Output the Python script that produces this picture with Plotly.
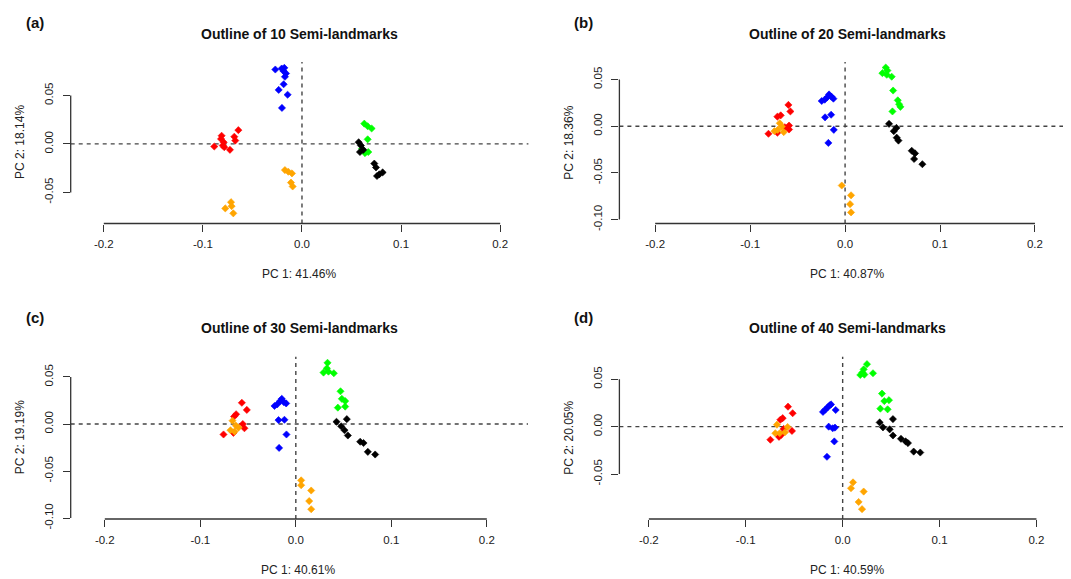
import plotly.graph_objects as go

W, H = 1071, 579

# ---------------- data (PC1, PC2) ----------------
# Panel (a): 10 semi-landmarks
pc1_a_red = [-0.0885, -0.0811, -0.0817, -0.0790, -0.0784, -0.0727, -0.0683, -0.0673, -0.0642, -0.0800]
pc2_a_red = [-0.0027, 0.0084, 0.0051, 0.0017, -0.0034, -0.0061, 0.0074, 0.0034, 0.0142, -0.0017]
pc1_a_orange = [-0.0172, -0.0138, -0.0101, -0.0111, -0.0094, -0.0774, -0.0716, -0.0710, -0.0693]
pc2_a_orange = [-0.0270, -0.0287, -0.0304, -0.0399, -0.0439, -0.0665, -0.0601, -0.0642, -0.0716]
pc1_a_blue = [-0.0269, -0.0205, -0.0178, -0.0185, -0.0161, -0.0172, -0.0185, -0.0235, -0.0145, -0.0202]
pc2_a_blue = [0.0767, 0.0777, 0.0784, 0.0750, 0.0726, 0.0692, 0.0615, 0.0557, 0.0507, 0.0371]
pc1_a_green = [0.0629, 0.0663, 0.0703, 0.0663, 0.0605, 0.0636, 0.0669, 0.0612]
pc2_a_green = [0.0209, 0.0182, 0.0159, 0.0047, -0.0051, -0.0095, -0.0084, -0.0068]
pc1_a_black = [0.0572, 0.0595, 0.0585, 0.0619, 0.0730, 0.0747, 0.0757, 0.0814, 0.0780]
pc2_a_black = [0.0017, -0.0017, -0.0084, -0.0061, -0.0203, -0.0243, -0.0331, -0.0294, -0.0314]

# Panel (b): 20 semi-landmarks
pc1_b_red = [-0.0597, -0.0576, -0.0713, -0.0678, -0.0590, -0.0590, -0.0807, -0.0713, -0.0635]
pc2_b_red = [0.0228, 0.0158, 0.0102, 0.0116, 0.0007, -0.0035, -0.0081, -0.0070, -0.0011]
pc1_b_orange = [-0.0688, -0.0667, -0.0744, -0.0709, -0.0646, -0.0035, 0.0063, 0.0053, 0.0063]
pc2_b_orange = [0.0032, -0.0004, -0.0053, -0.0039, -0.0063, -0.0635, -0.0740, -0.0835, -0.0923]
pc1_b_blue = [-0.0246, -0.0214, -0.0186, -0.0169, -0.0144, -0.0123, -0.0211, -0.0147, -0.0119, -0.0176]
pc2_b_blue = [0.0270, 0.0284, 0.0312, 0.0340, 0.0316, 0.0295, 0.0095, 0.0123, -0.0039, -0.0179]
pc1_b_green = [0.0428, 0.0446, 0.0393, 0.0439, 0.0491, 0.0506, 0.0555, 0.0583, 0.0569, 0.0499]
pc2_b_green = [0.0628, 0.0596, 0.0568, 0.0551, 0.0530, 0.0382, 0.0277, 0.0207, 0.0235, 0.0158]
pc1_b_black = [0.0463, 0.0541, 0.0513, 0.0544, 0.0562, 0.0702, 0.0737, 0.0727, 0.0814]
pc2_b_black = [0.0025, -0.0018, -0.0053, -0.0123, -0.0154, -0.0263, -0.0291, -0.0351, -0.0407]

# Panel (c): 30 semi-landmarks
pc1_c_red = [-0.0565, -0.0513, -0.0625, -0.0646, -0.0555, -0.0538, -0.0757, -0.0653]
pc2_c_red = [0.0226, 0.0150, 0.0104, 0.0080, 0.0000, -0.0045, -0.0111, -0.0094]
pc1_c_orange = [-0.0663, -0.0628, -0.0684, -0.0600, -0.0642, 0.0056, 0.0056, 0.0161, 0.0140, 0.0161]
pc2_c_orange = [0.0035, -0.0017, -0.0066, -0.0038, -0.0080, -0.0599, -0.0651, -0.0707, -0.0819, -0.0906]
pc1_c_blue = [-0.0223, -0.0195, -0.0164, -0.0147, -0.0126, -0.0101, -0.0181, -0.0119, -0.0098, -0.0175]
pc2_c_blue = [0.0192, 0.0209, 0.0244, 0.0268, 0.0233, 0.0219, 0.0042, 0.0045, -0.0111, -0.0254]
pc1_c_green = [0.0332, 0.0325, 0.0290, 0.0342, 0.0398, 0.0468, 0.0482, 0.0517, 0.0517, 0.0440]
pc2_c_green = [0.0651, 0.0592, 0.0547, 0.0557, 0.0540, 0.0348, 0.0268, 0.0244, 0.0185, 0.0174]
pc1_c_black = [0.0426, 0.0534, 0.0475, 0.0510, 0.0545, 0.0674, 0.0709, 0.0754, 0.0831]
pc2_c_black = [0.0024, 0.0052, -0.0024, -0.0066, -0.0122, -0.0188, -0.0202, -0.0296, -0.0324]

# Panel (d): 40 semi-landmarks
pc1_d_red = [-0.0564, -0.0516, -0.0643, -0.0619, -0.0609, -0.0523, -0.0746, -0.0657, -0.0633]
pc2_d_red = [0.0211, 0.0142, 0.0073, 0.0090, -0.0024, -0.0045, -0.0138, -0.0107, -0.0086]
pc1_d_orange = [-0.0678, -0.0568, -0.0695, -0.0650, -0.0595, 0.0107, 0.0086, 0.0217, 0.0165, 0.0200]
pc2_d_orange = [0.0021, -0.0003, -0.0069, -0.0069, -0.0059, -0.0588, -0.0650, -0.0685, -0.0795, -0.0871]
pc1_d_blue = [-0.0203, -0.0179, -0.0155, -0.0134, -0.0120, -0.0072, -0.0144, -0.0103, -0.0079, -0.0086, -0.0162]
pc2_d_blue = [0.0156, 0.0180, 0.0204, 0.0225, 0.0235, 0.0176, 0.0000, -0.0017, -0.0010, -0.0156, -0.0318]
pc1_d_green = [0.0251, 0.0217, 0.0203, 0.0182, 0.0224, 0.0313, 0.0406, 0.0430, 0.0478, 0.0389, 0.0464]
pc2_d_green = [0.0660, 0.0605, 0.0571, 0.0546, 0.0550, 0.0564, 0.0349, 0.0270, 0.0280, 0.0190, 0.0183]
pc1_d_black = [0.0382, 0.0519, 0.0416, 0.0485, 0.0519, 0.0602, 0.0650, 0.0674, 0.0733, 0.0801]
pc2_d_black = [0.0045, 0.0080, -0.0007, -0.0028, -0.0093, -0.0128, -0.0156, -0.0173, -0.0263, -0.0273]

panel_letters = ["(a)", "(b)", "(c)", "(d)"]
panel_titles = ["Outline of 10 Semi-landmarks", "Outline of 20 Semi-landmarks",
                "Outline of 30 Semi-landmarks", "Outline of 40 Semi-landmarks"]
pc1_labels = ["PC 1: 41.46%", "PC 1: 40.87%", "PC 1: 40.61%", "PC 1: 40.59%"]
pc2_labels = ["PC 2: 18.14%", "PC 2: 18.36%", "PC 2: 19.19%", "PC 2: 20.05%"]

x_ticks = [-0.2, -0.1, 0.0, 0.1, 0.2]
x_ticktext = ["-0.2", "-0.1", "0.0", "0.1", "0.2"]
y_ticks_a = [-0.05, 0.0, 0.05]
y_ticks_b = [-0.10, -0.05, 0.0, 0.05]
y_ticks_c = [-0.10, -0.05, 0.0, 0.05]
y_ticks_d = [-0.05, 0.0, 0.05]
y_ticks_all = [y_ticks_a, y_ticks_b, y_ticks_c, y_ticks_d]

group_colors = {"red": "#FF0000", "orange": "#FFA500", "blue": "#0000FF",
                "green": "#00FF00", "black": "#000000"}
order = ["red", "orange", "blue", "green", "black"]

series = {
    0: {"red": (pc1_a_red, pc2_a_red), "orange": (pc1_a_orange, pc2_a_orange),
        "blue": (pc1_a_blue, pc2_a_blue), "green": (pc1_a_green, pc2_a_green),
        "black": (pc1_a_black, pc2_a_black)},
    1: {"red": (pc1_b_red, pc2_b_red), "orange": (pc1_b_orange, pc2_b_orange),
        "blue": (pc1_b_blue, pc2_b_blue), "green": (pc1_b_green, pc2_b_green),
        "black": (pc1_b_black, pc2_b_black)},
    2: {"red": (pc1_c_red, pc2_c_red), "orange": (pc1_c_orange, pc2_c_orange),
        "blue": (pc1_c_blue, pc2_c_blue), "green": (pc1_c_green, pc2_c_green),
        "black": (pc1_c_black, pc2_c_black)},
    3: {"red": (pc1_d_red, pc2_d_red), "orange": (pc1_d_orange, pc2_d_orange),
        "blue": (pc1_d_blue, pc2_d_blue), "green": (pc1_d_green, pc2_d_green),
        "black": (pc1_d_black, pc2_d_black)},
}

# ---------------- layout geometry (pixels) ----------------
# plot regions: left, right, top, bottom
regions = [(62.7, 520.4, 55.0, 219.3), (611.4, 1067.7, 55.0, 219.3),
           (62.7, 520.0, 355.0, 520.0), (611.4, 1067.7, 355.0, 520.0)]
x_ranges = [(-0.2334, 0.2285), (-0.2377, 0.2429), (-0.2357, 0.2431), (-0.2304, 0.2405)]
y_ranges = [(-0.0821, 0.0844), (-0.1042, 0.0687), (-0.1010, 0.0714), (-0.0975, 0.0737)]

FONT = "Arial, Liberation Sans, sans-serif"
AXC = "#333333"
TXT = "#1a1a1a"

fig = go.Figure()
shapes = []
annotations = []

def px(x):
    return x / W

def py(y):
    return 1 - y / H

for i in range(4):
    xa = "xaxis" if i == 0 else f"xaxis{i+1}"
    ya = "yaxis" if i == 0 else f"yaxis{i+1}"
    xr = "x" if i == 0 else f"x{i+1}"
    yr = "y" if i == 0 else f"y{i+1}"
    L, R, T, B = regions[i]
    for g in order:
        xs, ys = series[i][g]
        fig.add_trace(go.Scatter(
            x=xs, y=ys, mode="markers", xaxis=xr, yaxis=yr, showlegend=False,
            marker=dict(symbol="diamond", size=5.5, color=group_colors[g],
                        line=dict(width=0.6, color=group_colors[g])),
            cliponaxis=False, hoverinfo="x+y"))
    fig.update_layout(**{
        xa: dict(domain=[px(L), px(R)], range=list(x_ranges[i]), anchor=yr,
                 showgrid=False, zeroline=False, showline=False,
                 ticks="outside", ticklen=7, tickwidth=1, tickcolor=AXC,
                 tickvals=x_ticks, ticktext=x_ticktext,
                 tickfont=dict(family=FONT, size=11.5, color=TXT),
                 ticklabelstandoff=3),
        ya: dict(domain=[py(B), py(T)], range=list(y_ranges[i]), anchor=xr,
                 showgrid=False, zeroline=False, showline=False,
                 ticks="outside", ticklen=7, tickwidth=1, tickcolor=AXC,
                 tickvals=y_ticks_all[i],
                 ticktext=[f"{v:.2f}" for v in y_ticks_all[i]],
                 tickangle=-90,
                 tickfont=dict(family=FONT, size=11.5, color=TXT),
                 ticklabelstandoff=5),
    })
    # R-style axis lines spanning first to last tick
    shapes.append(dict(type="line", xref=xr, yref=f"{yr} domain",
                       x0=x_ticks[0], x1=x_ticks[-1], y0=0, y1=0,
                       line=dict(color=AXC, width=1.3)))
    shapes.append(dict(type="line", xref=f"{xr} domain", yref=yr,
                       x0=0, x1=0, y0=min(y_ticks_all[i]), y1=max(y_ticks_all[i]),
                       line=dict(color=AXC, width=1.3)))
    # dashed reference lines at 0
    shapes.append(dict(type="line", xref=f"{xr} domain", yref=yr,
                       x0=0, x1=1, y0=0, y1=0, layer="below",
                       line=dict(color="#444444", width=1.4, dash="4px,4px")))
    shapes.append(dict(type="line", xref=xr, yref=f"{yr} domain",
                       x0=0, x1=0, y0=0, y1=1, layer="below",
                       line=dict(color="#444444", width=1.4, dash="4px,4px")))
    # titles and labels
    cx = (L + R) / 2
    annotations.append(dict(text=f"<b>{panel_titles[i]}</b>", x=px(cx), y=py(T - 29),
                            xref="paper", yref="paper", xanchor="center", yanchor="middle",
                            showarrow=False, font=dict(family=FONT, size=14, color="#111")))
    annotations.append(dict(text=f"<b>{panel_letters[i]}</b>", x=px(L - 36), y=py(T - 40),
                            xref="paper", yref="paper", xanchor="center", yanchor="middle",
                            showarrow=False, font=dict(family=FONT, size=15, color="#111")))
    annotations.append(dict(text=pc1_labels[i], x=px(cx - 1), y=py(B + 51.5),
                            xref="paper", yref="paper", xanchor="center", yanchor="middle",
                            showarrow=False, font=dict(family=FONT, size=12, color="#222")))
    annotations.append(dict(text=pc2_labels[i], x=px(L - 50), y=py((T + B) / 2 - 0.5),
                            xref="paper", yref="paper", xanchor="center", yanchor="middle",
                            textangle=-90, showarrow=False,
                            font=dict(family=FONT, size=12, color="#222")))

fig.update_layout(width=W, height=H, margin=dict(l=0, r=0, t=0, b=0),
                  paper_bgcolor="white", plot_bgcolor="white",
                  shapes=shapes, annotations=annotations, showlegend=False)

fig.write_html("out.html")
